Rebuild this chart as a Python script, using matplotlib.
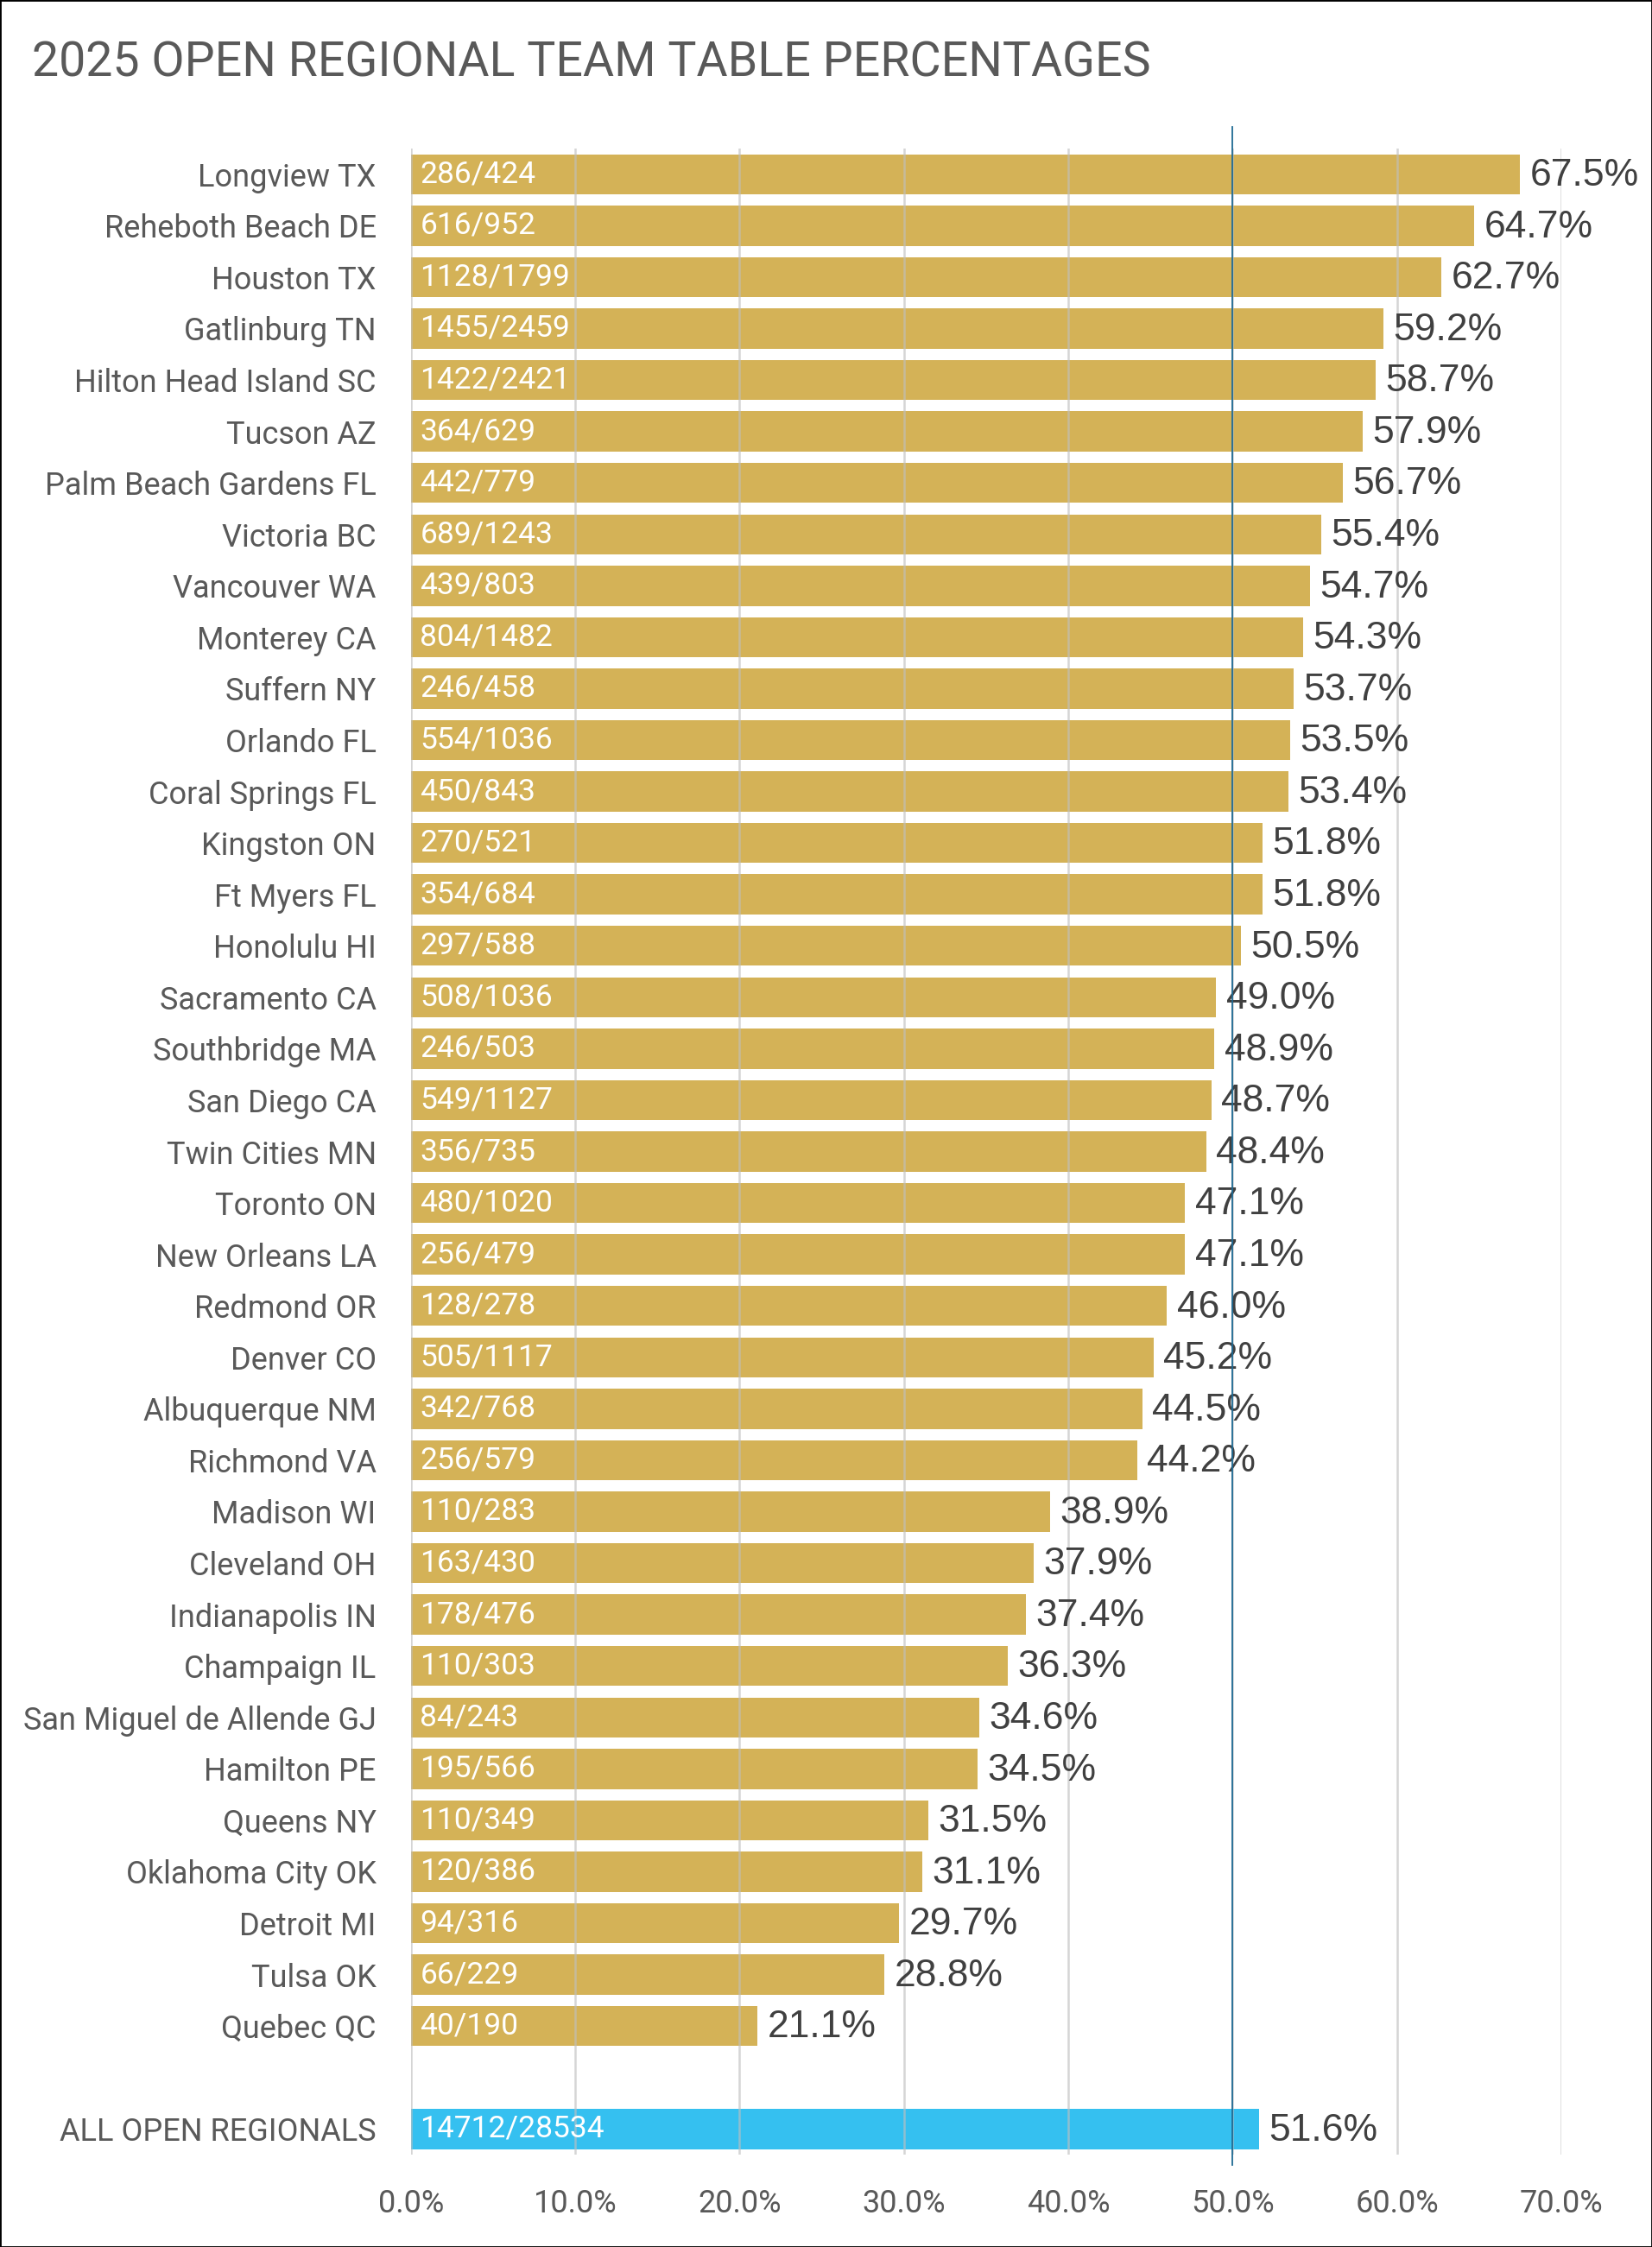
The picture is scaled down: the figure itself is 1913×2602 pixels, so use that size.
import matplotlib
matplotlib.use("Agg")
import matplotlib.pyplot as plt
from matplotlib.patches import Rectangle

# ----------------------------
# data (as shown on the chart)
# ----------------------------
sites = ['Longview TX', 'Reheboth Beach DE', 'Houston TX', 'Gatlinburg TN',
         'Hilton Head Island SC', 'Tucson AZ', 'Palm Beach Gardens FL',
         'Victoria BC', 'Vancouver WA', 'Monterey CA', 'Suffern NY',
         'Orlando FL', 'Coral Springs FL', 'Kingston ON', 'Ft Myers FL',
         'Honolulu HI', 'Sacramento CA', 'Southbridge MA', 'San Diego CA',
         'Twin Cities MN', 'Toronto ON', 'New Orleans LA', 'Redmond OR',
         'Denver CO', 'Albuquerque NM', 'Richmond VA', 'Madison WI',
         'Cleveland OH', 'Indianapolis IN', 'Champaign IL',
         'San Miguel de Allende GJ', 'Hamilton PE', 'Queens NY',
         'Oklahoma City OK', 'Detroit MI', 'Tulsa OK', 'Quebec QC']
made = [286, 616, 1128, 1455, 1422, 364, 442, 689, 439, 804, 246, 554, 450,
        270, 354, 297, 508, 246, 549, 356, 480, 256, 128, 505, 342, 256, 110,
        163, 178, 110, 84, 195, 110, 120, 94, 66, 40]
played = [424, 952, 1799, 2459, 2421, 629, 779, 1243, 803, 1482, 458, 1036,
          843, 521, 684, 588, 1036, 503, 1127, 735, 1020, 479, 278, 1117, 768,
          579, 283, 430, 476, 303, 243, 566, 349, 386, 316, 229, 190]
pcts = [67.5, 64.7, 62.7, 59.2, 58.7, 57.9, 56.7, 55.4, 54.7, 54.3, 53.7,
        53.5, 53.4, 51.8, 51.8, 50.5, 49.0, 48.9, 48.7, 48.4, 47.1, 47.1,
        46.0, 45.2, 44.5, 44.2, 38.9, 37.9, 37.4, 36.3, 34.6, 34.5, 31.5,
        31.1, 29.7, 28.8, 21.1]
total_label = 'ALL OPEN REGIONALS'
total_made = 14712
total_played = 28534
total_pct = 51.6
target = 50.0
x_ticks = [0, 10, 20, 30, 40, 50, 60, 70]

GOLD = '#D4B257'
BLUE = '#35C0F0'
REF = '#1F6A93'
LABEL_GREY = '#595959'
VALUE_GREY = '#404040'

sans = ['Roboto', 'DejaVu Sans']
plain = ['Liberation Sans', 'DejaVu Sans']

fig = plt.figure(figsize=(19.13, 26.02), dpi=100)
ax = fig.add_axes([0.2488, 0.0411, 0.945 - 0.2488, 0.8928])

# one blank slot before the total bar
ypos = list(range(len(sites)))
y_total = len(sites) + 1

ax.barh(ypos, pcts, height=0.78, color=GOLD, zorder=2)
ax.barh([y_total], [total_pct], height=0.78, color=BLUE, zorder=2)

rows = list(zip(ypos, made, played, pcts)) + [(y_total, total_made, total_played, total_pct)]
for y, m, p, v in rows:
    ax.text(0.55, y, f'{m}/{p}', color='white', va='center', ha='left',
            fontsize=25.5, family=sans, zorder=4)
    ax.text(v + 0.6, y + 0.03, f'{v:.1f}%', color=VALUE_GREY, va='center',
            ha='left', fontsize=32, family=plain, zorder=4)

# reference line at 50%
ax.plot([target, target], [-0.92, y_total + 0.7], color=REF, lw=1.3,
        clip_on=False, zorder=5)

ax.set_xlim(0, 70)
ax.set_ylim(y_total + 0.5, -0.5)
ax.set_xticks(x_ticks)
ax.set_xticklabels([f'{t:.1f}%' for t in x_ticks])
ax.set_yticks(ypos + [y_total])
ax.set_yticklabels(sites + [total_label])
for lab in ax.get_yticklabels():
    lab.set_family(sans)
    lab.set_color(LABEL_GREY)
    lab.set_fontsize(26)
for lab in ax.get_xticklabels():
    lab.set_family(sans)
    lab.set_color(LABEL_GREY)
    lab.set_fontsize(26)
ax.tick_params(axis='both', length=0)
ax.tick_params(axis='y', pad=29)
ax.tick_params(axis='x', pad=28)

ax.grid(axis='x', color='#BFBFBF', alpha=0.65, lw=1.8, zorder=3)
ax.set_axisbelow(False)
for s in ax.spines.values():
    s.set_visible(False)

fig.text(0.0193, 0.972, '2025 OPEN REGIONAL TEAM TABLE PERCENTAGES',
         fontsize=40, color=LABEL_GREY, family=sans, va='center', ha='left')

# outer frame
fig.patches.append(Rectangle((0, 0), 1, 1, transform=fig.transFigure,
                             fill=False, edgecolor='black', lw=2))

fig.savefig('out.png', dpi=100)
